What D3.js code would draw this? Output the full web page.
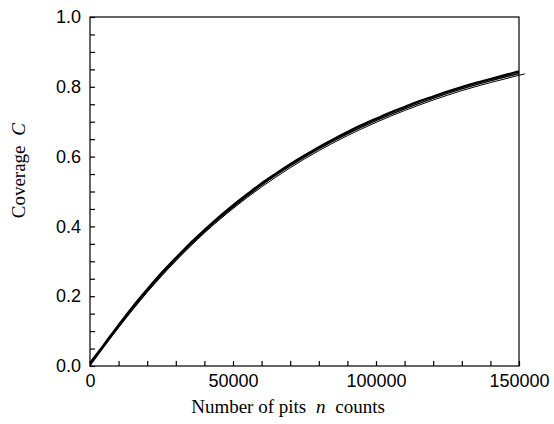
<!DOCTYPE html>
<html>
<head>
<meta charset="utf-8">
<script src="https://cdn.jsdelivr.net/npm/d3@7"></script>
<style>
  body { margin: 0; background: #fff; }
  .tick text { font-family: "Liberation Sans", Arial, sans-serif; font-size: 18px; fill: #000; }
  .title { font-family: "Liberation Serif", "Times New Roman", serif; font-size: 19px; fill: #000; }
</style>
</head>
<body>
<script>
'use strict';

// simulated coverage (every 5000 pits)
var simN = [0, 5000, 10000, 15000, 20000, 25000, 30000, 35000, 40000, 45000, 50000,
	55000, 60000, 65000, 70000, 75000, 80000, 85000, 90000, 95000, 100000,
	105000, 110000, 115000, 120000, 125000, 130000, 135000, 140000, 145000, 150000];
var simC = [0.008, 0.062, 0.117, 0.170, 0.219, 0.266, 0.309, 0.351, 0.389, 0.426, 0.460,
	0.492, 0.523, 0.551, 0.578, 0.603, 0.627, 0.649, 0.670, 0.690, 0.708,
	0.726, 0.742, 0.758, 0.772, 0.786, 0.799, 0.811, 0.822, 0.833, 0.844];

// second run, nearly on top of the first
var runN = [0, 10000, 20000, 30000, 40000, 50000, 60000, 70000, 80000, 90000,
	100000, 110000, 120000, 130000, 140000, 150000];
var runC = [0.004, 0.113, 0.215, 0.305, 0.385, 0.455, 0.518, 0.573, 0.622, 0.665,
	0.703, 0.737, 0.767, 0.794, 0.817, 0.838];

// model curve
var modelN = [0, 10000, 20000, 30000, 40000, 50000, 60000, 70000, 80000, 90000,
	100000, 110000, 120000, 130000, 140000, 150000, 152000];
var modelC = [0.000, 0.110, 0.211, 0.301, 0.381, 0.451, 0.513, 0.568, 0.617, 0.660,
	0.698, 0.732, 0.762, 0.789, 0.812, 0.833, 0.837];

var xTicks = [0, 50000, 100000, 150000];
var yTicks = [0.0, 0.2, 0.4, 0.6, 0.8, 1.0];

var chartW = 554, chartH = 424;
var plotL = 90, plotR = 519, plotT = 17, plotB = 366;

var svg = d3.select('body').append('svg')
	.attr('width', chartW)
	.attr('height', chartH);

var x = d3.scaleLinear().domain([0, 150000]).range([plotL, plotR]);
var y = d3.scaleLinear().domain([0, 1]).range([plotB, plotT]);

function pairs(ns, cs) {
	return ns.map(function (n, i) { return [n, cs[i]]; });
}

var line = d3.line()
	.x(function (d) { return x(d[0]); })
	.y(function (d) { return y(d[1]); })
	.curve(d3.curveMonotoneX);

svg.append('path')
	.datum(pairs(modelN, modelC))
	.attr('d', line)
	.attr('fill', 'none')
	.attr('stroke', '#000')
	.attr('stroke-width', 1);

svg.append('path')
	.datum(pairs(runN, runC))
	.attr('d', line)
	.attr('fill', 'none')
	.attr('stroke', '#000')
	.attr('stroke-width', 1.4);

svg.append('path')
	.datum(pairs(simN, simC))
	.attr('d', line)
	.attr('fill', 'none')
	.attr('stroke', '#000')
	.attr('stroke-width', 2.4);

// frame
svg.append('rect')
	.attr('x', plotL)
	.attr('y', plotT)
	.attr('width', plotR - plotL)
	.attr('height', plotB - plotT)
	.attr('fill', 'none')
	.attr('stroke', '#000')
	.attr('stroke-width', 1.2);

// minor ticks
var xMinor = svg.append('g').attr('transform', 'translate(0,' + plotB + ')')
	.call(d3.axisTop(x).ticks(15).tickSize(5).tickFormat(''));
xMinor.select('.domain').remove();

var yMinor = svg.append('g').attr('transform', 'translate(' + plotL + ',0)')
	.call(d3.axisRight(y).ticks(20).tickSize(5).tickFormat(''));
yMinor.select('.domain').remove();

// major ticks with labels
var xAxis = svg.append('g').attr('transform', 'translate(0,' + plotB + ')')
	.call(d3.axisBottom(x).tickValues(xTicks).tickSize(0).tickPadding(8).tickFormat(d3.format('d')));
xAxis.select('.domain').remove();

var yAxis = svg.append('g').attr('transform', 'translate(' + plotL + ',0)')
	.call(d3.axisLeft(y).tickValues(yTicks).tickSize(0).tickPadding(9).tickFormat(d3.format('.1f')));
yAxis.select('.domain').remove();

svg.selectAll('.tick line').attr('stroke-width', 1.2);

// titles
var xt = svg.append('text')
	.attr('class', 'title')
	.attr('x', 288)
	.attr('y', 413)
	.attr('text-anchor', 'middle');
xt.append('tspan').text('Number of pits ');
xt.append('tspan').attr('dx', 5).style('font-style', 'italic').text('n');
xt.append('tspan').attr('dx', 5).text(' counts');

var yt = svg.append('text')
	.attr('class', 'title')
	.attr('transform', 'translate(25,123) rotate(-90)')
	.attr('text-anchor', 'end');
yt.append('tspan').text('Coverage ');
yt.append('tspan').attr('dx', 5).style('font-style', 'italic').text('C');
</script>
</body>
</html>
